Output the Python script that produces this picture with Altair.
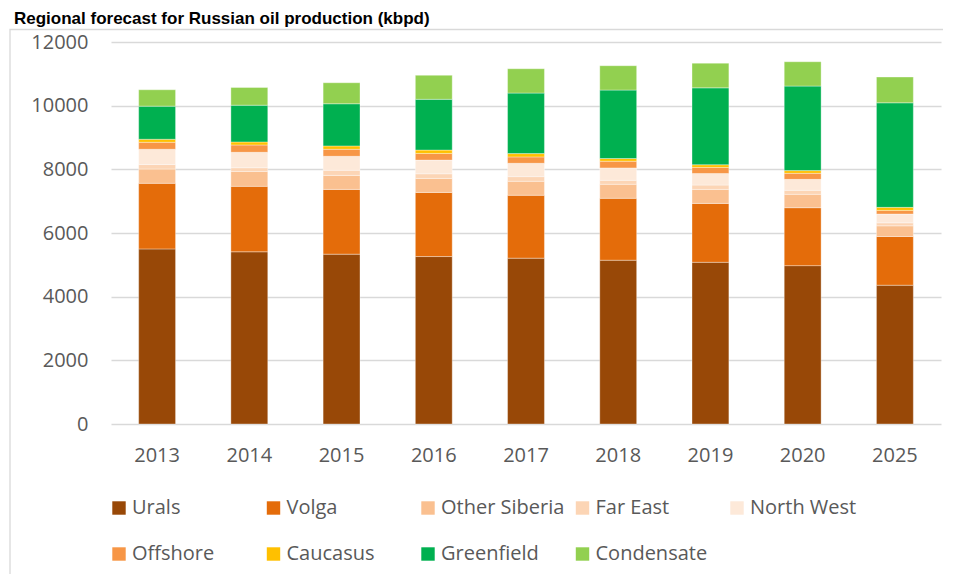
import altair as alt
import pandas as pd

years = ["2013", "2014", "2015", "2016", "2017", "2018", "2019", "2020", "2025"]
regions = ["Urals", "Volga", "Other Siberia", "Far East", "North West",
           "Offshore", "Caucasus", "Greenfield", "Condensate"]
colors = ["#984807", "#E46C0A", "#FAC090", "#FCD5B5", "#FDE9D9",
          "#F79646", "#FFC000", "#00B050", "#92D050"]

urals = [5500, 5410, 5335, 5260, 5210, 5145, 5080, 4975, 4360]
volga = [2060, 2055, 2035, 2015, 1975, 1945, 1850, 1820, 1530]
other_siberia = [450, 470, 440, 440, 440, 440, 440, 420, 335]
far_east = [140, 115, 160, 145, 145, 125, 135, 125, 95]
north_west = [480, 485, 440, 430, 420, 390, 365, 345, 275]
offshore = [220, 230, 220, 210, 200, 210, 190, 190, 115]
caucasus = [95, 95, 105, 105, 105, 85, 85, 85, 95]
greenfield = [1040, 1155, 1325, 1595, 1900, 2150, 2415, 2655, 3285]
condensate = [515, 555, 660, 755, 765, 765, 775, 765, 810]

series = [urals, volga, other_siberia, far_east, north_west,
          offshore, caucasus, greenfield, condensate]

rows = []
for i, (name, vals) in enumerate(zip(regions, series)):
    for y, v in zip(years, vals):
        rows.append({"Year": y, "Region": name, "Value": v, "Order": i})
df = pd.DataFrame(rows)

FONT = "Open Sans"
GREY = "#595959"

bars = alt.Chart(df).mark_bar(stroke="#FFFFFF", strokeWidth=0.7, strokeOpacity=0.5).encode(
    x=alt.X("Year:N", sort=years, title=None,
            scale=alt.Scale(paddingInner=0.6, paddingOuter=0.3),
            axis=alt.Axis(labelAngle=0, ticks=False, domain=False, grid=False,
                          labelPadding=21, labelFontSize=20, labelFont=FONT,
                          labelColor=GREY)),
    y=alt.Y("Value:Q", title=None, stack="zero",
            scale=alt.Scale(domain=[0, 12000], nice=False),
            axis=alt.Axis(values=[0, 2000, 4000, 6000, 8000, 10000, 12000],
                          format="d", ticks=False, domain=False,
                          labelPadding=23, labelFontSize=20, labelFont=FONT,
                          labelColor=GREY, gridColor="#D9D9D9", gridWidth=1.5)),
    color=alt.Color("Region:N", sort=regions,
                    scale=alt.Scale(domain=regions, range=colors),
                    legend=alt.Legend(title=None, orient="none", legendX=-2, legendY=456,
                                      direction="horizontal", columns=5,
                                      gridAlign="all", columnPadding=7.5, rowPadding=26,
                                      symbolType="square", symbolSize=180,
                                      symbolStrokeWidth=0, labelOffset=3,
                                      labelFontSize=20, labelFont=FONT,
                                      labelColor=GREY, padding=0, labelLimit=300)),
    order=alt.Order("Order:Q", sort="ascending"),
)

frame = alt.Chart(alt.Data(values=[{}])).mark_rect(
    fillOpacity=0, stroke="#D9D9D9", strokeWidth=1.3, clip=False
).encode(
    x=alt.value(-101), x2=alt.value(900), y=alt.value(-12.5), y2=alt.value(600)
)

title = alt.Chart(alt.Data(values=[{}])).mark_text(
    align="left", baseline="alphabetic", font="Liberation Sans",
    fontWeight="bold", fontSize=17, color="#000000"
).encode(
    x=alt.value(-97), y=alt.value(-18),
    text=alt.value("Regional forecast for Russian oil production (kbpd)")
)

chart = alt.layer(frame, bars, title).properties(
    width=830, height=382,
    padding={"left": 103, "top": 34, "right": 2, "bottom": 150},
    autosize=alt.AutoSizeParams(type="none"),
).configure_view(stroke=None)

chart.save("out.html", embed_options={"renderer": "svg", "actions": False})
